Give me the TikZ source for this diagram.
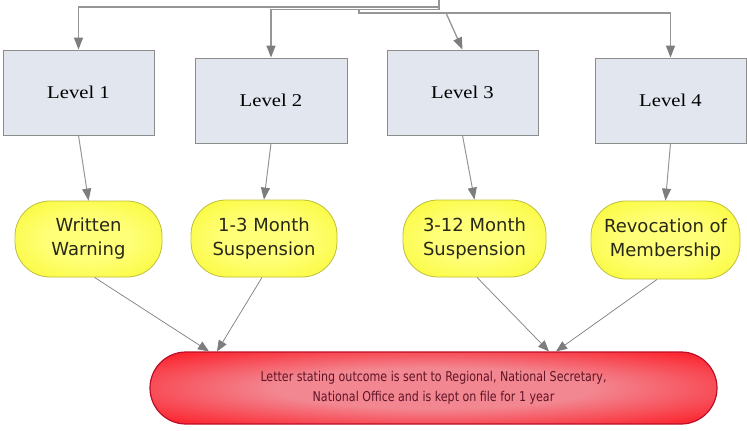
\documentclass[tikz,border=0pt]{standalone}
\usepackage{fontspec}
\setmainfont{Liberation Serif}
\newfontfamily\lvlfont[FakeStretch=1.15]{Liberation Serif}
\newfontfamily\vsans{DejaVu Sans}
\newfontfamily\vsansnarrow[FakeStretch=0.82]{DejaVu Sans}
\usetikzlibrary{arrows.meta}
\definecolor{boxfill}{RGB}{226,230,238}
\definecolor{boxline}{RGB}{140,140,140}
\definecolor{conn}{RGB}{150,150,150}
\definecolor{tipc}{RGB}{125,125,125}
\definecolor{yin}{RGB}{255,255,120}
\definecolor{yout}{RGB}{245,245,10}
\definecolor{yline}{RGB}{190,190,60}
\definecolor{ytext}{RGB}{40,40,25}
\definecolor{rin}{RGB}{242,135,145}
\definecolor{rout}{RGB}{255,0,10}
\definecolor{rline}{RGB}{185,15,40}
\definecolor{rtext}{RGB}{95,20,38}
\pgfdeclareradialshading{yelshade}{\pgfpoint{0bp}{0bp}}{color(0bp)=(yin); color(14bp)=(yin); color(48bp)=(yout); color(100bp)=(yout)}
\pgfdeclareradialshading{redshade}{\pgfpoint{0bp}{0bp}}{color(0bp)=(rin); color(14bp)=(rin); color(40bp)=(rout); color(100bp)=(rout)}
\tikzset{
  levelbox/.style={draw=boxline, fill=boxfill, line width=0.9pt, minimum width=151pt, minimum height=85pt, inner sep=0pt, font=\lvlfont\fontsize{18}{20}\selectfont},
  outcome/.style={draw=yline, line width=0.8pt, shade, shading=yelshade, rounded corners=35pt, inner sep=0pt, align=center, text=ytext, font=\vsans\fontsize{18}{24}\selectfont},
  finalbox/.style={draw=rline, line width=1.2pt, shade, shading=redshade, rounded corners=36pt, inner sep=0pt, minimum width=567pt, minimum height=72pt, align=center, text=rtext, font=\vsansnarrow\fontsize{13.5}{20}\selectfont},
  topline/.style={draw=conn, line width=1.3pt, -{Triangle[length=12pt,width=9pt,color=tipc]}},
  midline/.style={draw=conn, line width=1pt, -{Triangle[length=12pt,width=9pt,color=tipc]}},
  lowline/.style={draw=tipc, line width=0.7pt, -{Triangle[length=11pt,width=9pt,color=tipc]}}
}
\begin{document}
\begin{tikzpicture}[x=1pt,y=-1pt]
\useasboundingbox (0,0) rectangle (747,431);
% level boxes
\node[levelbox] (L1) at (78.5,92.5) {Level 1};
\node[levelbox, minimum width=152pt] (L2) at (271,100.5) {Level 2};
\node[levelbox] (L3) at (462.5,92.5) {Level 3};
\node[levelbox] (L4) at (670.5,100.5) {Level 4};
% outcomes
\node[outcome, minimum width=147pt, minimum height=76pt] (WW) at (88.5,239) {Written\\Warning};
\node[outcome, minimum width=146pt, minimum height=77pt] (S13) at (264,238.5) {1-3 Month\\Suspension};
\node[outcome, minimum width=143pt, minimum height=77pt] (S312) at (474.5,238.5) {3-12 Month\\Suspension};
\node[outcome, minimum width=149pt, minimum height=78pt] (Rev) at (665.5,240) {Revocation of\\Membership};
% final
\node[finalbox] (F) at (433.5,388) {Letter stating outcome is sent to Regional, National Secretary,\\National Office and is kept on file for 1 year};
% top connectors
\coordinate (src) at (439,0);
\coordinate (k1) at (439,7);
\coordinate (k2) at (439,9.5);
\coordinate (k3) at (359,9.5);
\coordinate (k4) at (359,13);
\coordinate (k5) at (446,13);
\draw[topline] (src) -- (k1) -| (L1.north);
\draw[topline] (src) -- (k2) -| (L2.north);
\draw[topline] (k3) -- (k4) -| (L4.north);
\draw[topline] (k5) -- (L3.north);
% level to outcome
\draw[midline] (L1.south) -- (WW.north);
\draw[midline] (L2.south) -- (S13.north);
\draw[midline] (L3.south) -- (S312.north);
\draw[midline] (L4.south) -- (Rev.north);
% outcome to final
\draw[lowline] ([xshift=6pt]WW.south) -- ([xshift=-224.5pt]F.north);
\draw[lowline] ([xshift=-2pt]S13.south) -- ([xshift=-216.5pt]F.north);
\draw[lowline] ([xshift=2.5pt]S312.south) -- ([xshift=115.5pt]F.north);
\draw[lowline] ([xshift=-8.5pt]Rev.south) -- ([xshift=122.5pt]F.north);
\end{tikzpicture}
\end{document}
